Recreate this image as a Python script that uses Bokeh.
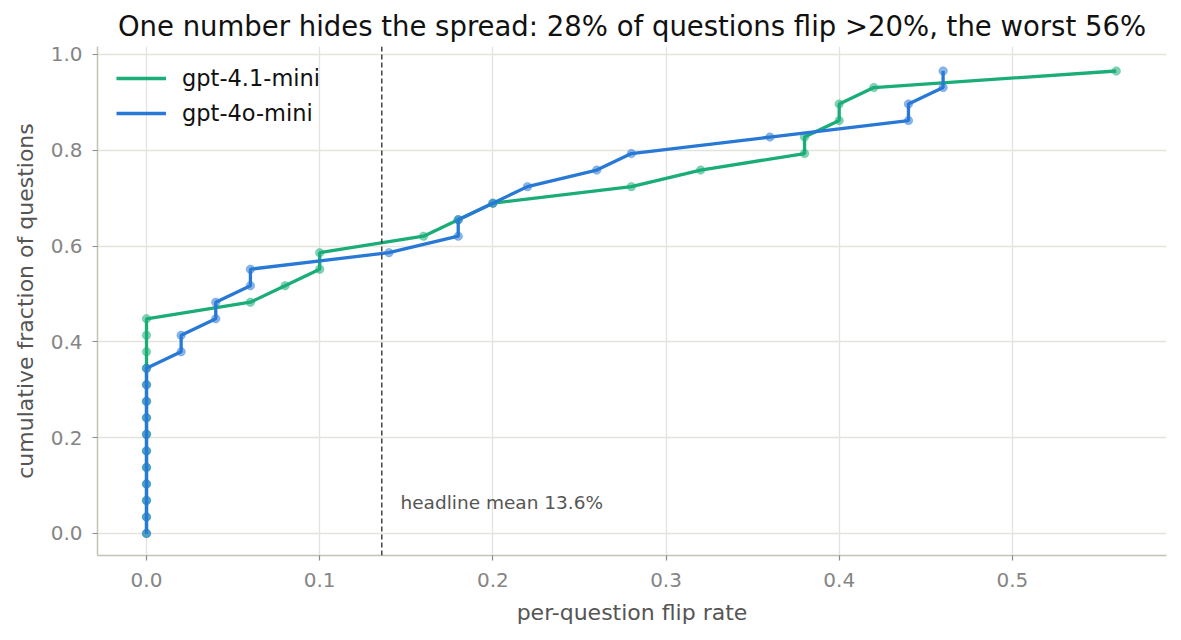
import numpy as np
from bokeh.core.properties import value
from bokeh.embed import file_html
from bokeh.models import ColumnDataSource, FixedTicker, Legend, LegendItem, PrintfTickFormatter, Range1d, Span
from bokeh.plotting import figure
from bokeh.resources import INLINE

# per-question flip rates, 29 questions per model (sorted)
gpt41_mini = [0.0] * 14 + [0.06, 0.08, 0.10, 0.10, 0.16, 0.18, 0.20, 0.28,
                           0.32, 0.38, 0.38, 0.40, 0.40, 0.42, 0.56]
gpt4o_mini = [0.0] * 11 + [0.02, 0.02, 0.04, 0.04, 0.06, 0.06, 0.14, 0.18, 0.18,
                           0.20, 0.22, 0.26, 0.28, 0.36, 0.44, 0.44, 0.46, 0.46]
models = ["gpt-4.1-mini", "gpt-4o-mini"]
colors = ["#1aad78", "#2878d6"]
x_ticks = [0.0, 0.1, 0.2, 0.3, 0.4, 0.5]
y_ticks = [0.0, 0.2, 0.4, 0.6, 0.8, 1.0]

headline = float(np.mean(gpt41_mini + gpt4o_mini))

FONT = "DejaVu Sans"

p = figure(width=1173, height=632, output_backend="svg", toolbar_location=None,
           x_range=Range1d(-0.0283, 0.589), y_range=Range1d(-0.046, 1.0167),
           min_border_left=97, min_border_right=7, min_border_top=46, min_border_bottom=77,
           title="One number hides the spread: 28% of questions flip >20%, the worst 56%")
p.title.text_font = FONT
p.title.text_font_size = "27.5px"
p.title.text_font_style = "normal"
p.title.text_color = "#111111"
p.title.align = "center"

p.outline_line_color = None
p.background_fill_color = "white"

for ax in (p.xaxis, p.yaxis):
    ax.axis_line_color = "#c4c2b8"
    ax.axis_line_width = 1.5
    ax.major_tick_line_color = "#8a8a8a"
    ax.major_tick_line_width = 1.2
    ax.major_tick_in = 0
    ax.major_tick_out = 5
    ax.minor_tick_line_color = None
    ax.major_label_text_font = FONT
    ax.major_label_text_font_size = "20px"
    ax.major_label_text_color = "#858585"
    ax.axis_label_text_font = FONT
    ax.axis_label_text_font_size = "22px"
    ax.axis_label_text_font_style = "normal"
    ax.axis_label_text_color = "#555555"
    ax.formatter = PrintfTickFormatter(format="%.1f")

p.xaxis.ticker = FixedTicker(ticks=x_ticks)
p.yaxis.ticker = FixedTicker(ticks=y_ticks)
p.xaxis.axis_label = "per-question flip rate"
p.yaxis.axis_label = "cumulative fraction of questions"
p.xaxis.major_label_standoff = 12
p.yaxis.major_label_standoff = 10
p.xaxis.axis_label_standoff = 10
p.yaxis.axis_label_standoff = 10

p.grid.grid_line_color = "#e4e3de"
p.grid.grid_line_width = 1.3

renderers = []
for name, rates, color in zip(models, [gpt41_mini, gpt4o_mini], colors):
    xs = sorted(rates)
    n = len(xs)
    src = ColumnDataSource(data=dict(x=xs, y=[i / n for i in range(n)]))
    r = p.line("x", "y", source=src, line_color=color, line_width=3.3)
    p.scatter("x", "y", source=src, size=8.5, fill_color=color, fill_alpha=0.55,
              line_color=color, line_alpha=0.3)
    renderers.append((name, r))

p.add_layout(Span(location=headline, dimension="height", line_color="#444444",
                  line_width=1.5, line_dash="5 3"))
p.text(x=[headline + 0.0108], y=[0.064], text=[f"headline mean {headline * 100:.1f}%"],
       text_font=value(FONT), text_font_size="18.5px", text_color="#555555",
       text_baseline="middle", text_align="left")

legend = Legend(items=[LegendItem(label=name, renderers=[r]) for name, r in renderers],
                location="top_left")
legend.border_line_color = None
legend.background_fill_alpha = 0
legend.label_text_font = FONT
legend.label_text_font_size = "22.5px"
legend.label_text_color = "#111111"
legend.glyph_width = 50
legend.glyph_height = 26
legend.label_height = 26
legend.label_standoff = 16
legend.spacing = 9
legend.margin = 19
legend.padding = 10
p.add_layout(legend)

open("out.html", "w").write(file_html(p, INLINE))
